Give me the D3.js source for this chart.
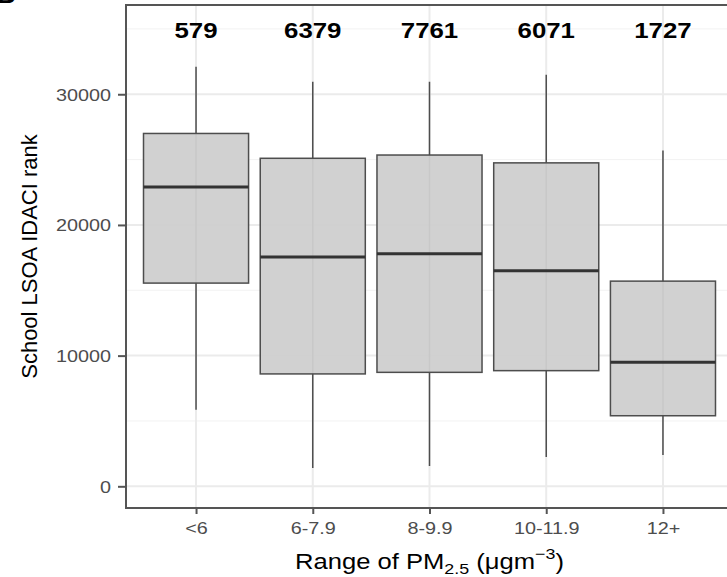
<!DOCTYPE html>
<html>
<head>
<meta charset="utf-8">
<script src="https://cdn.jsdelivr.net/npm/d3@7"></script>
<style>
  html, body { margin: 0; padding: 0; background: #fff; }
  svg { display: block; }
  text { font-family: "Liberation Sans", Arial, sans-serif; }
</style>
</head>
<body>
<svg id="chart" width="727" height="577"></svg>
<script>
// ---- data ----
const categories = ["<6", "6-7.9", "8-9.9", "10-11.9", "12+"];
const counts     = [579, 6379, 7761, 6071, 1727];
const whiskerLow = [5850, 1400, 1550, 2250, 2400];
const q1         = [15550, 8600, 8720, 8850, 5400];
const median     = [22900, 17550, 17800, 16500, 9500];
const q3         = [27000, 25100, 25350, 24750, 15700];
const whiskerHigh= [32100, 30950, 30950, 31500, 25700];
const yTicks     = [0, 10000, 20000, 30000];
const yMinor     = [5000, 15000, 25000, 35000];
const countLabelY = 35000;

// ---- layout ----
const svg = d3.select("#chart");
const pL = 126, pR = 733, pT = 5, pB = 508;
const stretch = 1.2;

const y = d3.scaleLinear().domain([-1660, 36830]).range([pB, pT]);
const x = d3.scalePoint().domain(categories).range([pL, pR]).padding(0.6);
const boxW = x.step() * 0.9;

const rows = categories.map((c, i) => ({
  c, n: counts[i], lo: whiskerLow[i], q1: q1[i], med: median[i], q3: q3[i], hi: whiskerHigh[i]
}));

// gridlines
const grid = svg.append("g");
grid.selectAll("line.minor").data(yMinor).join("line")
  .attr("x1", pL).attr("x2", pR)
  .attr("y1", d => y(d)).attr("y2", d => y(d))
  .attr("stroke", "#f2f2f2").attr("stroke-width", 1);
grid.selectAll("line.major").data(yTicks).join("line")
  .attr("x1", pL).attr("x2", pR)
  .attr("y1", d => y(d)).attr("y2", d => y(d))
  .attr("stroke", "#ebebeb").attr("stroke-width", 2);
grid.selectAll("line.vx").data(categories).join("line")
  .attr("x1", d => x(d)).attr("x2", d => x(d))
  .attr("y1", pT).attr("y2", pB)
  .attr("stroke", "#ebebeb").attr("stroke-width", 2);

// boxes
const g = svg.append("g");
g.selectAll("line.whisk").data(rows).join("line")
  .attr("x1", d => x(d.c)).attr("x2", d => x(d.c))
  .attr("y1", d => y(d.lo)).attr("y2", d => y(d.hi))
  .attr("stroke", "#4d4d4d").attr("stroke-width", 1.5);
g.selectAll("rect.box").data(rows).join("rect")
  .attr("x", d => x(d.c) - boxW / 2).attr("width", boxW)
  .attr("y", d => y(d.q3)).attr("height", d => y(d.q1) - y(d.q3))
  .attr("fill", "#cfcfcf").attr("fill-opacity", 0.95)
  .attr("stroke", "#4d4d4d").attr("stroke-width", 1.5);
g.selectAll("line.med").data(rows).join("line")
  .attr("x1", d => x(d.c) - boxW / 2).attr("x2", d => x(d.c) + boxW / 2)
  .attr("y1", d => y(d.med)).attr("y2", d => y(d.med))
  .attr("stroke", "#333").attr("stroke-width", 3);

// count labels
g.selectAll("text.cnt").data(rows).join("text")
  .attr("transform", d => `translate(${x(d.c)},${y(countLabelY)}) scale(${stretch},1)`)
  .attr("text-anchor", "middle").attr("dy", "0.42em")
  .attr("font-size", 21.5).attr("font-weight", "bold").attr("fill", "#000")
  .text(d => d.n);

// panel border (right side is off-canvas)
svg.append("rect")
  .attr("x", pL).attr("y", pT).attr("width", pR - pL).attr("height", pB - pT)
  .attr("fill", "none").attr("stroke", "#555").attr("stroke-width", 2);

// y axis
const ya = svg.append("g").attr("transform", `translate(${pL},0)`)
  .call(d3.axisLeft(y).tickValues(yTicks).tickSize(8).tickPadding(0).tickFormat(d3.format("d")));
ya.select(".domain").remove();
ya.selectAll(".tick line").attr("stroke", "#555").attr("stroke-width", 2);
ya.selectAll(".tick text")
  .attr("x", null).attr("dy", "0.36em")
  .attr("transform", `translate(-15,0) scale(${stretch},1)`)
  .attr("font-size", 16.5).attr("fill", "#4d4d4d")
  .style("font-family", "'Liberation Sans', Arial, sans-serif");

// x axis
const xa = svg.append("g").attr("transform", `translate(0,${pB})`)
  .call(d3.axisBottom(x).tickSize(6).tickPadding(0));
xa.select(".domain").remove();
xa.selectAll(".tick line").attr("stroke", "#555").attr("stroke-width", 2);
xa.selectAll(".tick text")
  .attr("y", null).attr("dy", null)
  .attr("transform", `translate(0,26) scale(${stretch},1)`)
  .attr("font-size", 16.5).attr("fill", "#4d4d4d")
  .style("font-family", "'Liberation Sans', Arial, sans-serif");

// axis titles
const xt = svg.append("text")
  .attr("transform", `translate(${(pL + pR) / 2},569) scale(1.19,1)`)
  .attr("text-anchor", "middle").attr("font-size", 21.5).attr("fill", "#000");
xt.append("tspan").text("Range of PM");
xt.append("tspan").attr("font-size", 15).attr("dy", 5).text("2.5");
xt.append("tspan").attr("dy", -5).text(" (\u03BCgm");
xt.append("tspan").attr("font-size", 15).attr("dy", -10).text("\u22123");
xt.append("tspan").attr("dy", 10).text(")");

svg.append("text")
  .attr("transform", `translate(37,${(pT + pB) / 2}) rotate(-90)`)
  .attr("text-anchor", "middle").attr("font-size", 22).attr("fill", "#000")
  .text("School LSOA IDACI rank");

// partial panel tag at top-left (cut off, as in the reference)
svg.append("text").attr("x", -3).attr("y", 3)
  .attr("font-size", 26).attr("font-weight", "bold").attr("fill", "#000").text("B");
</script>
</body>
</html>
